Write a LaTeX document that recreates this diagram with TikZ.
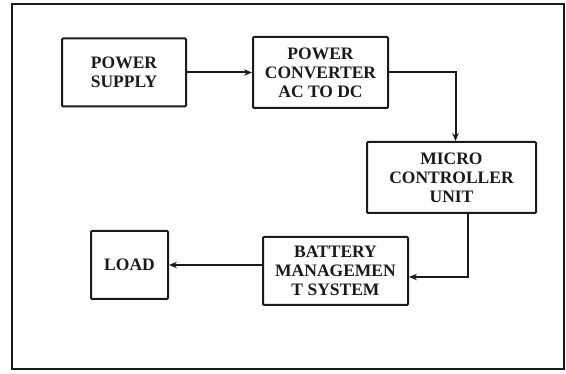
\documentclass[tikz,border=0pt]{standalone}
\usepackage{fontspec}
\setmainfont{Liberation Serif}
\usetikzlibrary{positioning, arrows.meta}
\definecolor{ink}{HTML}{1A1A1A}

\begin{document}
\begin{tikzpicture}[
  x=1pt, y=-1pt,
  every node/.style={font=\rmfamily\bfseries\fontsize{17.5}{19}\selectfont, text=ink},
  block/.style={
    draw=ink, line width=2pt, rounded corners=1pt,
    inner sep=0pt, align=center
  },
  arrow/.style={-{Stealth[length=8pt, width=6.5pt]}, draw=ink, line width=2pt}
]
  \useasboundingbox (0,0) rectangle (566,374);
  \draw[ink, line width=2pt] (12,4) rectangle (564,369);

  \node[block, minimum width=124pt, minimum height=68pt] (ps) at (124,72.5) {POWER\\SUPPLY};
  \node[block, minimum width=135pt, minimum height=71pt, right=65pt of ps] (conv) {POWER\\CONVERTER\\AC TO DC};
  \node[block, minimum width=169pt, minimum height=71pt] (mcu) at (451.5,177.5) {MICRO\\CONTROLLER\\UNIT};
  \node[block, minimum width=145pt, minimum height=68pt] (bms) at (335.5,271) {BATTERY\\MANAGEMEN\\T SYSTEM};
  \node[block, minimum width=77pt, minimum height=68pt] (load) at (129.5,265) {LOAD};

  \draw[arrow] (ps) -- (conv);
  \draw[arrow] (conv.east) -| ([xshift=4pt]mcu.north);
  \draw[arrow] ([xshift=16.5pt]mcu.south) |- ([yshift=-6pt]bms.east);
  \draw[arrow] (load.east -| bms.west) -- (load.east);
\end{tikzpicture}
\end{document}
